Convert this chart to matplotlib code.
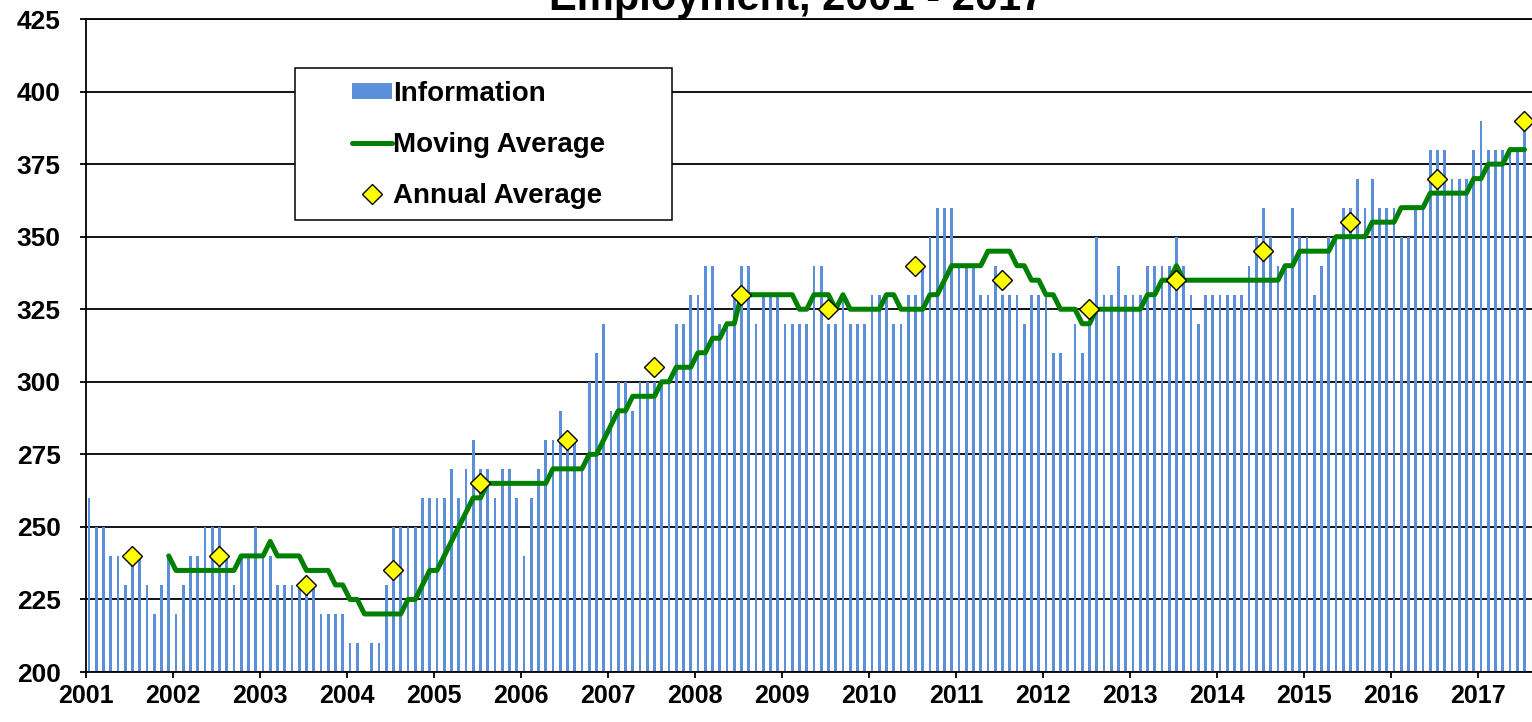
import numpy as np
import matplotlib
matplotlib.use('Agg')
import matplotlib.pyplot as plt
from matplotlib.patches import Rectangle

plt.rcParams['font.family'] = ['Liberation Sans', 'DejaVu Sans']
plt.rcParams['font.weight'] = 'bold'

years = list(range(2001, 2018))

# monthly employment, Jan 2001 - Jul 2017
information = [
    260, 250, 250, 240, 240, 230, 240, 240, 230, 220, 230, 240,  # 2001
    220, 230, 240, 240, 250, 250, 250, 240, 230, 240, 240, 250,  # 2002
    240, 240, 230, 230, 230, 230, 230, 230, 220, 220, 220, 220,  # 2003
    210, 210, 200, 210, 210, 230, 250, 250, 250, 250, 260, 260,  # 2004
    260, 260, 270, 260, 270, 280, 270, 270, 260, 270, 270, 260,  # 2005
    240, 260, 270, 280, 280, 290, 280, 280, 270, 300, 310, 320,  # 2006
    290, 300, 300, 290, 300, 300, 300, 300, 300, 320, 320, 330,  # 2007
    330, 340, 340, 320, 320, 330, 340, 340, 320, 330, 330, 330,  # 2008
    320, 320, 320, 320, 340, 340, 320, 320, 330, 320, 320, 320,  # 2009
    330, 330, 330, 320, 320, 330, 330, 340, 350, 360, 360, 360,  # 2010
    340, 340, 340, 330, 330, 340, 330, 330, 330, 320, 330, 330,  # 2011
    330, 310, 310, 300, 320, 310, 320, 350, 330, 330, 340, 330,  # 2012
    330, 330, 340, 340, 340, 340, 350, 340, 330, 320, 330, 330,  # 2013
    330, 330, 330, 330, 340, 350, 360, 350, 340, 340, 360, 350,  # 2014
    350, 330, 340, 350, 350, 360, 360, 370, 360, 370, 360, 360,  # 2015
    360, 350, 350, 360, 360, 380, 380, 380, 370, 370, 370, 380,  # 2016
    390, 380, 380, 380, 380, 380, 390,                           # 2017
]

# 12-month moving average, Dec 2001 - Jul 2017
moving_avg = [
    240,
    235, 235, 235, 235, 235, 235, 235, 235, 235, 240, 240, 240,  # 2002
    240, 245, 240, 240, 240, 240, 235, 235, 235, 235, 230, 230,  # 2003
    225, 225, 220, 220, 220, 220, 220, 220, 225, 225, 230, 235,  # 2004
    235, 240, 245, 250, 255, 260, 260, 265, 265, 265, 265, 265,  # 2005
    265, 265, 265, 265, 270, 270, 270, 270, 270, 275, 275, 280,  # 2006
    285, 290, 290, 295, 295, 295, 295, 300, 300, 305, 305, 305,  # 2007
    310, 310, 315, 315, 320, 320, 330, 330, 330, 330, 330, 330,  # 2008
    330, 330, 325, 325, 330, 330, 330, 325, 330, 325, 325, 325,  # 2009
    325, 325, 330, 330, 325, 325, 325, 325, 330, 330, 335, 340,  # 2010
    340, 340, 340, 340, 345, 345, 345, 345, 340, 340, 335, 335,  # 2011
    330, 330, 325, 325, 325, 320, 320, 325, 325, 325, 325, 325,  # 2012
    325, 325, 330, 330, 335, 335, 340, 335, 335, 335, 335, 335,  # 2013
    335, 335, 335, 335, 335, 335, 335, 335, 335, 340, 340, 345,  # 2014
    345, 345, 345, 345, 350, 350, 350, 350, 350, 355, 355, 355,  # 2015
    355, 360, 360, 360, 360, 365, 365, 365, 365, 365, 365, 370,  # 2016
    370, 375, 375, 375, 380, 380, 380,                           # 2017
]

annual_avg = [240, 240, 230, 235, 265, 280, 305, 330, 325, 340,
              335, 325, 335, 345, 355, 370, 390]

x_bar = np.arange(len(information))
x_ma = np.arange(11, 11 + len(moving_avg))
x_ann = 6 + 12 * np.arange(len(annual_avg))

fig = plt.figure(figsize=(15.32, 7.22), dpi=100)
ax = fig.add_axes([86 / 1532, 50 / 722, 1446 / 1532, 653 / 722])

bars = ax.bar(x_bar, information, width=0.38, color='#5b8fd9', zorder=2)
ma_line, = ax.plot(x_ma, moving_avg, color='#008000', lw=3.6,
                   solid_joinstyle='round', solid_capstyle='round', zorder=3)
ann_pts, = ax.plot(x_ann, annual_avg, ls='none', marker='D', ms=10.5,
                   mfc='#ffff00', mec='black', mew=1.0, zorder=4)

ax.set_xlim(-0.41, -0.41 + 1446 / 7.25)
ax.set_ylim(200, 425)
ax.set_yticks(range(200, 426, 25))
ax.set_xticks([12 * k - 0.41 for k in range(len(years))])
ax.set_xticklabels([str(y) for y in years])

ax.yaxis.grid(True, color='black', lw=1.3)
ax.set_axisbelow(True)
for side in ['left', 'bottom', 'top']:
    ax.spines[side].set_color('black')
    ax.spines[side].set_linewidth(1.3)
ax.spines['right'].set_visible(False)

ax.tick_params(axis='x', length=4.3, width=1.3, pad=4.3, labelsize=18)
ax.tick_params(axis='y', length=4.3, width=1.3, pad=14, labelsize=19)

fig.text(797 / 1532, 1 - 10 / 722, 'Employment, 2001 - 2017', ha='center',
         va='baseline', fontsize=30, fontweight='bold')

# legend box
ax.add_patch(Rectangle((295 / 1532, 1 - 220 / 722), 377 / 1532, 152 / 722,
                       transform=fig.transFigure, facecolor='white',
                       edgecolor='black', lw=1.1, zorder=4.5, clip_on=False))
leg = ax.legend([bars, ma_line, ann_pts],
                ['Information', 'Moving Average', 'Annual Average'],
                loc='upper left', bbox_to_anchor=(352 / 1532, 1 - 81 / 722),
                bbox_transform=fig.transFigure, frameon=False, fontsize=20,
                handlelength=1.44, handletextpad=0.05, labelspacing=0.9,
                borderpad=0, borderaxespad=0, numpoints=1, markerscale=1.0,
                handleheight=0.5)
leg.set_zorder(5)

fig.savefig('out.png', dpi=100)
